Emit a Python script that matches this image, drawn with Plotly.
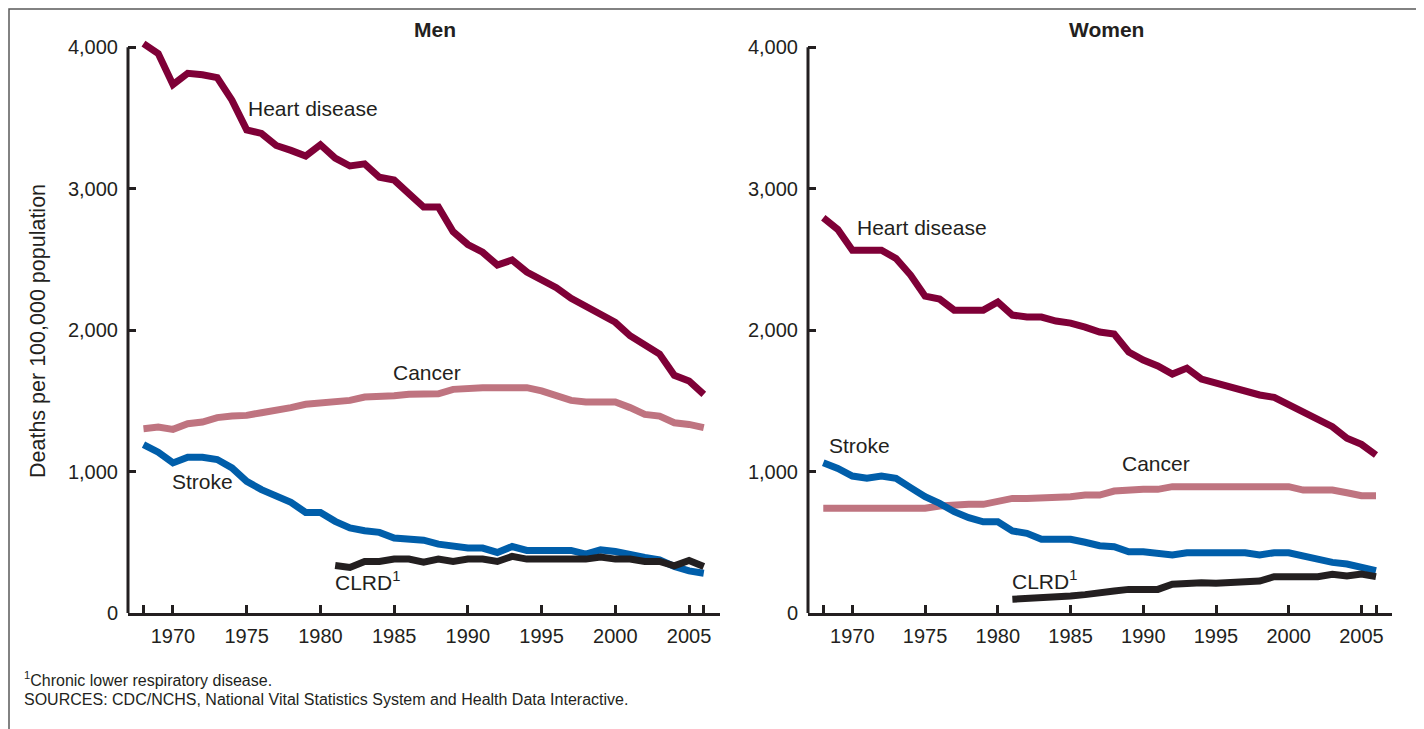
import plotly.graph_objects as go

years = list(range(1968, 2007))
clrd_years = list(range(1981, 2007))

men_heart = [4025, 3955, 3735, 3815, 3805, 3785, 3625, 3415, 3390, 3305, 3270, 3230,
             3310, 3215, 3160, 3175, 3080, 3060, 2965, 2870, 2870, 2695, 2605, 2550,
             2460, 2495, 2410, 2360, 2300, 2225, 2170, 2120, 2055, 1960, 1890, 1830,
             1680, 1640, 1545]
men_cancer = [1303, 1314, 1298, 1338, 1350, 1381, 1392, 1397, 1416, 1440, 1452, 1475,
              1487, 1487, 1503, 1527, 1527, 1535, 1546, 1550, 1550, 1581, 1593, 1593,
              1593, 1593, 1593, 1570, 1541, 1503, 1491, 1491, 1491, 1452, 1404, 1392,
              1345, 1333, 1310]
men_stroke = [1191, 1137, 1061, 1101, 1101, 1085, 1026, 931, 872, 832, 782, 711,
              711, 648, 601, 581, 570, 530, 518, 515, 487, 470, 459, 459,
              428, 470, 442, 442, 442, 442, 416, 446, 435, 411, 392, 376,
              329, 298, 281]
men_clrd = [336, 322, 364, 364, 381, 381, 359, 381, 364, 381, 381, 364, 400, 381,
            381, 381, 381, 381, 395, 381, 381, 364, 364, 333, 371, 328]

women_heart = [2794, 2711, 2565, 2565, 2565, 2506, 2389, 2240, 2219, 2141, 2141, 2141,
               2198, 2106, 2092, 2092, 2064, 2049, 2021, 1986, 1972, 1845, 1788, 1746,
               1689, 1731, 1654, 1623, 1595, 1564, 1541, 1524, 1475, 1418, 1376, 1317,
               1235, 1192, 1117]
women_cancer = [740, 740, 740, 740, 740, 740, 740, 740, 756, 768, 768, 768,
                787, 810, 810, 810, 822, 822, 834, 834, 862, 874, 874, 874,
                893, 893, 893, 893, 893, 893, 893, 893, 893, 869, 869, 869,
                850, 829, 829]
women_stroke = [1062, 1022, 968, 952, 968, 952, 886, 822, 775, 716, 674, 645,
                645, 580, 563, 521, 521, 521, 500, 476, 469, 433, 433, 422,
                410, 426, 426, 426, 426, 426, 410, 426, 426, 403, 375, 358,
                346, 327, 299]
women_clrd = [97, 100, 111, 115, 120, 130, 148, 155, 167, 167, 167, 203, 214, 214,
              210, 214, 221, 226, 257, 257, 257, 257, 273, 261, 276, 257]

x_tickvals = [1970, 1975, 1980, 1985, 1990, 1995, 2000, 2005]
x_ticktext = ["1970", "1975", "1980", "1985", "1990", "1995", "2000", "2005"]
x_extra_ticks = [1968, 2006]
y_tickvals = [0, 1000, 2000, 3000, 4000]

C_HEART = "#7f0037"
C_CANCER = "#bf7480"
C_STROKE = "#005eaa"
C_CLRD = "#231f20"
TXT = "#231f20"
FONT = "Liberation Sans, Arial, sans-serif"

fig = go.Figure()

panels = [
    ("x", "y", men_heart, men_cancer, men_stroke, men_clrd),
    ("x2", "y2", women_heart, women_cancer, women_stroke, women_clrd),
]
for xa, ya, heart, cancer, stroke, clrd in panels:
    for xs, ys, col in [(years, cancer, C_CANCER), (years, stroke, C_STROKE),
                        (clrd_years, clrd, C_CLRD), (years, heart, C_HEART)]:
        fig.add_trace(go.Scatter(x=xs, y=ys, mode="lines", xaxis=xa, yaxis=ya,
                                 line=dict(color=col, width=7), showlegend=False,
                                 hoverinfo="skip"))

# page body has an 8px margin: work in coordinates shifted by 8px
W, H = 1416, 721
OFF = 8


def px(xr):
    return (xr - OFF) / W


def py(yr):
    return (H - (yr - OFF)) / H


ydom = [py(613), py(33)]
xrange_ = [1966.95, 2007.1]
yrange_ = [0, 4100]

xcommon = dict(range=xrange_, tickmode="array", tickvals=x_tickvals, ticktext=x_ticktext,
               ticks="inside", ticklen=8, tickwidth=2.5, tickcolor=TXT,
               minor=dict(tickmode="array", tickvals=x_extra_ticks, ticks="inside",
                          ticklen=8, tickwidth=2.5, tickcolor=TXT, showgrid=False),
               showline=True, linewidth=3, linecolor=TXT, showgrid=False,
               zeroline=False, tickfont=dict(family=FONT, size=20, color=TXT),
               ticklabelstandoff=3, fixedrange=True, automargin=False)
ycommon = dict(range=yrange_, tickvals=y_tickvals, tickformat=",",
               ticks="inside", ticklen=8, tickwidth=2.5, tickcolor=TXT,
               showline=False, showgrid=False, zeroline=False,
               tickfont=dict(family=FONT, size=20, color=TXT),
               ticklabelstandoff=9, fixedrange=True, automargin=False)

fig.update_layout(
    template="none",
    width=W, height=H, autosize=False,
    margin=dict(l=0, r=0, t=0, b=0, pad=0, autoexpand=False),
    paper_bgcolor="white", plot_bgcolor="white",
    xaxis=dict(domain=[px(128), px(720)], anchor="y", **xcommon),
    yaxis=dict(domain=ydom, anchor="x", **ycommon),
    xaxis2=dict(domain=[px(808), px(1392)], anchor="y2", **xcommon),
    yaxis2=dict(domain=ydom, anchor="x2", **ycommon),
    font=dict(family=FONT, color=TXT),
)

# y-axis lines (0 to 4000) and outer frame
shapes = []
for xr, yr in [("x domain", "y"), ("x2 domain", "y2")]:
    shapes.append(dict(type="line", xref=xr, yref=yr, x0=0, x1=0, y0=0, y1=4000,
                       line=dict(color=TXT, width=3)))
shapes.append(dict(type="rect", xref="paper", yref="paper",
                   x0=1 / W, x1=px(1417), y0=-0.05, y1=(H - 1) / H,
                   line=dict(color="#5a5a5a", width=1.5), layer="below"))
fig.update_layout(shapes=shapes)

ann = []
lab_font = dict(family=FONT, size=21, color=TXT)
labels = [
    ("x", "y", 1979.5, 3569, "Heart disease"),
    ("x", "y", 1987.2, 1703, "Cancer"),
    ("x", "y", 1972.0, 933, "Stroke"),
    ("x", "y", 1983.2, 226, "CLRD<sup>1</sup>"),
    ("x2", "y2", 1974.8, 2728, "Heart disease"),
    ("x2", "y2", 1970.5, 1187, "Stroke"),
    ("x2", "y2", 1990.9, 1060, "Cancer"),
    ("x2", "y2", 1983.2, 233, "CLRD<sup>1</sup>"),
]
for xr, yr, xv, yv, t in labels:
    ann.append(dict(xref=xr, yref=yr, x=xv, y=yv, text=t, showarrow=False,
                    font=lab_font, xanchor="center", yanchor="middle"))

ann.append(dict(xref="paper", yref="paper", x=px(435), y=py(30), text="<b>Men</b>",
                showarrow=False, font=dict(family=FONT, size=21, color=TXT),
                xanchor="center", yanchor="middle"))
ann.append(dict(xref="paper", yref="paper", x=px(1106), y=py(30), text="<b>Women</b>",
                showarrow=False, font=dict(family=FONT, size=21, color=TXT),
                xanchor="center", yanchor="middle"))
ann.append(dict(xref="paper", yref="paper", x=px(38), y=py(331),
                text="Deaths per 100,000 population", textangle=-90, showarrow=False,
                font=dict(family=FONT, size=21.5, color=TXT),
                xanchor="center", yanchor="middle"))
ann.append(dict(xref="paper", yref="paper", x=px(22), y=py(679),
                text="<sup>1</sup>Chronic lower respiratory disease.", showarrow=False,
                font=dict(family=FONT, size=16, color=TXT),
                xanchor="left", yanchor="middle"))
ann.append(dict(xref="paper", yref="paper", x=px(22), y=py(699),
                text="SOURCES: CDC/NCHS, National Vital Statistics System and Health Data Interactive.",
                showarrow=False, font=dict(family=FONT, size=16, color=TXT),
                xanchor="left", yanchor="middle"))
fig.update_layout(annotations=ann)

fig.write_html("out.html", config=dict(displayModeBar=False))
